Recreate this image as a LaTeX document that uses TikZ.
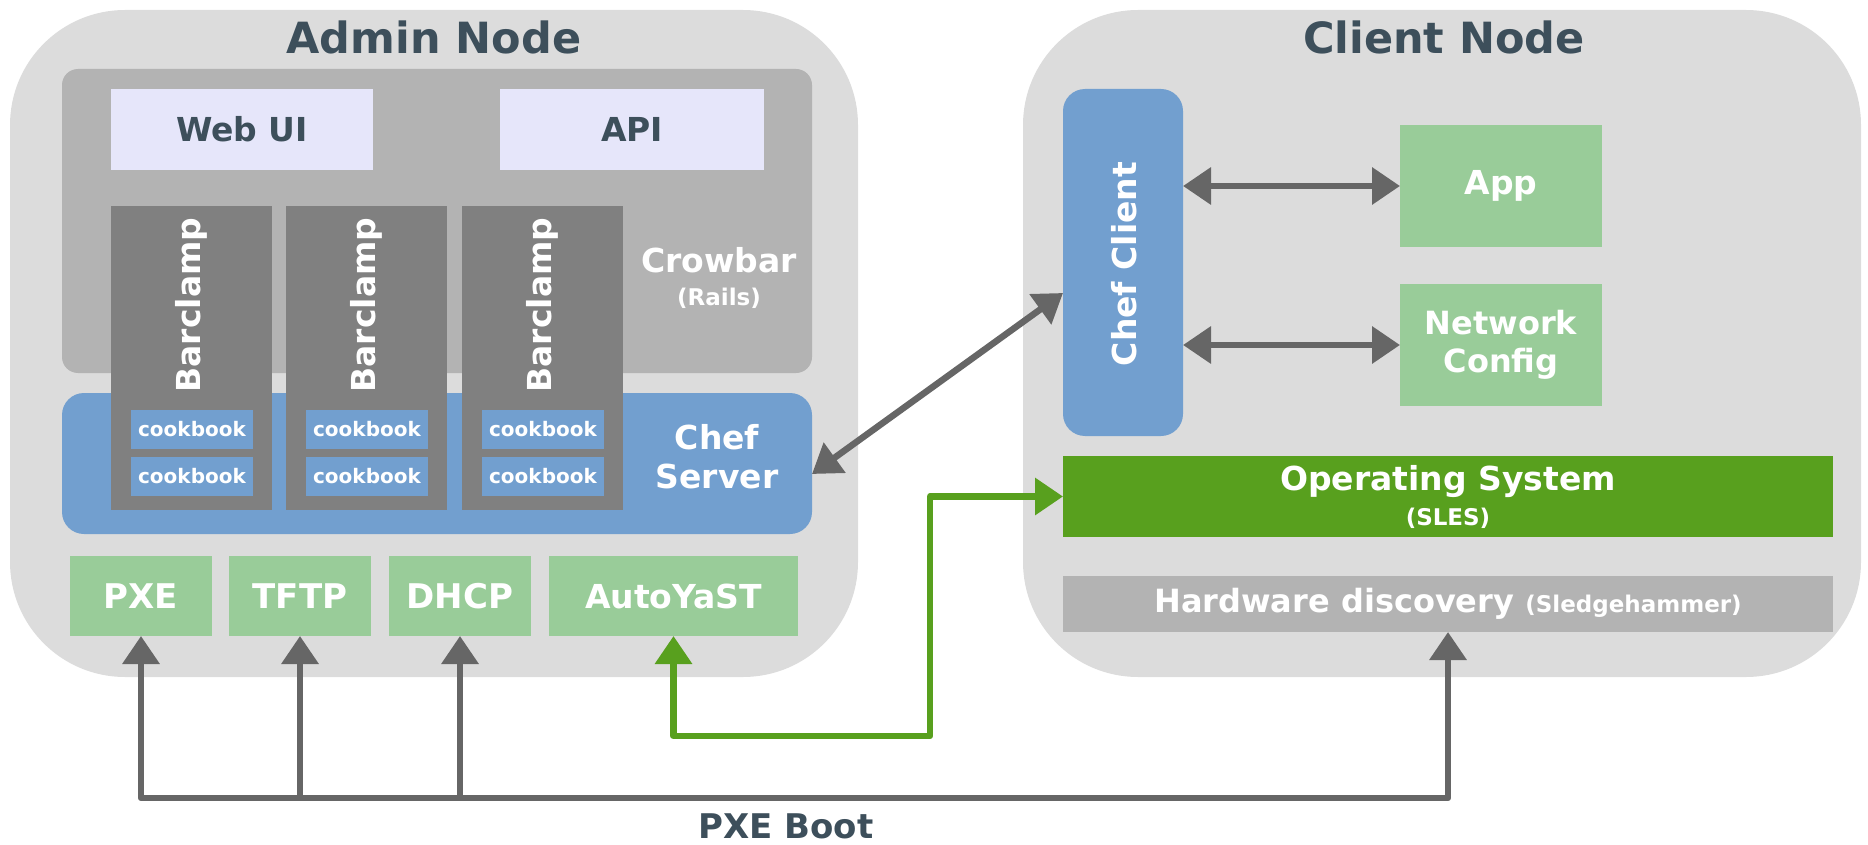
\documentclass[tikz,border=0pt]{standalone}
\usepackage{fontspec}
\setmainfont{DejaVu Sans}
\usetikzlibrary{arrows.meta}
\definecolor{outerbg}{HTML}{DCDCDC}
\definecolor{crowgray}{HTML}{B3B3B3}
\definecolor{lav}{HTML}{E6E6FA}
\definecolor{barcl}{HTML}{808080}
\definecolor{chefblue}{HTML}{729FCF}
\definecolor{lgreen}{HTML}{99CC99}
\definecolor{dgreen}{HTML}{58A01E}
\definecolor{arrgray}{HTML}{666666}
\definecolor{titlec}{HTML}{3D4F5B}
\newcommand{\fsz}[1]{\fontsize{#1}{#1}\selectfont\bfseries}
\tikzset{
  box/.style={anchor=north west, inner sep=0pt, outer sep=0pt, draw=none},
  lbl/.style={inner sep=0pt, text=white, font=\fsz{33}},
  dlbl/.style={inner sep=0pt, text=titlec, font=\fsz{33}},
  garr/.style={draw=arrgray, line width=6.5pt, line join=round,
     -{Triangle[length=28pt,width=36pt]}},
  gdbl/.style={draw=arrgray, line width=6.5pt, line join=round,
     {Triangle[length=28pt,width=36pt]}-{Triangle[length=28pt,width=36pt]}},
  grarr/.style={draw=dgreen, line width=6.5pt, line join=round,
     {Triangle[length=28pt,width=36pt]}-{Triangle[length=28pt,width=36pt]}},
}
\begin{document}
\begin{tikzpicture}[x=1pt,y=-1pt]
\useasboundingbox (0,0) rectangle (1868,845);
% outer nodes
\node[box, fill=outerbg, rounded corners=115pt, minimum width=848pt, minimum height=667pt] (admin) at (10,10) {};
\node[box, fill=outerbg, rounded corners=115pt, minimum width=838pt, minimum height=667pt] (client) at (1023,10) {};
\node[text=titlec, font=\fsz{43}, inner sep=0pt] (admint) at (434,37) {Admin Node};
\node[text=titlec, font=\fsz{43}, inner sep=0pt] (clientt) at (1444,37) {Client Node};
% crowbar and chef server
\node[box, fill=crowgray, rounded corners=16pt, minimum width=750pt, minimum height=304pt] (crowbar) at (62,69) {};
\node[box, fill=chefblue, rounded corners=22pt, minimum width=750pt, minimum height=141pt] (chefserver) at (62,393) {};
\node[box, fill=lav, minimum width=262pt, minimum height=81pt, dlbl] (webui) at (111,89) {};
\node[dlbl] at (webui.center) {Web UI};
\node[box, fill=lav, minimum width=264pt, minimum height=81pt] (api) at (500,89) {};
\node[dlbl] at (api.center) {API};
\node[lbl] (crowt) at (719,260) {Crowbar};
\node[lbl, font=\fsz{23}] (railst) at (719,298) {(Rails)};
\node[lbl, align=center] (chefst) at (717,457) {Chef\\[6pt]Server};
% barclamps
\foreach \i/\x in {1/111,2/286,3/462}{
  \node[box, fill=barcl, minimum width=161pt, minimum height=304pt] (bc\i) at (\x,206) {};
  \node[lbl, rotate=90] at (\x+80.5,305) {Barclamp};
  \node[box, fill=chefblue, minimum width=122pt, minimum height=39pt] (cka\i) at (\x+20,410) {};
  \node[lbl, font=\fsz{20}] at (cka\i.center) {cookbook};
  \node[box, fill=chefblue, minimum width=122pt, minimum height=39pt] (ckb\i) at (\x+20,457) {};
  \node[lbl, font=\fsz{20}] at (ckb\i.center) {cookbook};
}
% bottom services
\node[box, fill=lgreen, minimum width=142pt, minimum height=80pt] (pxe) at (70,556) {};
\node[lbl, font=\fsz{34}] at (pxe.center) {PXE};
\node[box, fill=lgreen, minimum width=142pt, minimum height=80pt] (tftp) at (229,556) {};
\node[lbl, font=\fsz{34}] at (tftp.center) {TFTP};
\node[box, fill=lgreen, minimum width=142pt, minimum height=80pt] (dhcp) at (389,556) {};
\node[lbl, font=\fsz{34}] at (dhcp.center) {DHCP};
\node[box, fill=lgreen, minimum width=249pt, minimum height=80pt] (autoyast) at (549,556) {};
\node[lbl] at (autoyast.center) {AutoYaST};
% client node content
\node[box, fill=chefblue, rounded corners=22pt, minimum width=120pt, minimum height=347pt] (chefclient) at (1063,89) {};
\node[lbl, rotate=90] at (1124,264) {Chef Client};
\node[box, fill=lgreen, minimum width=202pt, minimum height=122pt] (app) at (1400,125) {};
\node[lbl] at (app.center) {App};
\node[box, fill=lgreen, minimum width=202pt, minimum height=122pt] (net) at (1400,284) {};
\node[lbl, align=center, font=\fsz{32}] at (net.center) {Network\\[6pt]Config};
\node[box, fill=dgreen, minimum width=770pt, minimum height=81pt] (os) at (1063,456) {};
\node[lbl] at (1448,482) {Operating System};
\node[lbl, font=\fsz{23}] at (1448,518) {(SLES)};
\node[box, fill=crowgray, minimum width=770pt, minimum height=56pt] (hw) at (1063,576) {};
\node[lbl, font=\fsz{32}] at (hw.center) {Hardware discovery {\fsz{23}(Sledgehammer)}};
% connectors
\draw[gdbl] ([yshift=-10.5pt]chefserver.east) -- ([yshift=-30.5pt]chefclient.west);
\draw[gdbl] (chefclient.east |- app.west) -- (app.west);
\draw[gdbl] (chefclient.east |- net.west) -- (net.west);
\coordinate (gcorner) at (930,736);
\draw[grarr] (autoyast.south) |- (gcorner) |- (os.west);
\coordinate (pxebase) at (141,798);
\draw[gdbl] (pxe.south) -- (pxe.south |- pxebase) -| (hw.south);
\draw[garr] (tftp.south |- pxebase) -- (tftp.south);
\draw[garr] (dhcp.south |- pxebase) -- (dhcp.south);
\node[dlbl, font=\fsz{34}] (pxeboot) at (786,826) {PXE Boot};
\end{tikzpicture}
\end{document}
